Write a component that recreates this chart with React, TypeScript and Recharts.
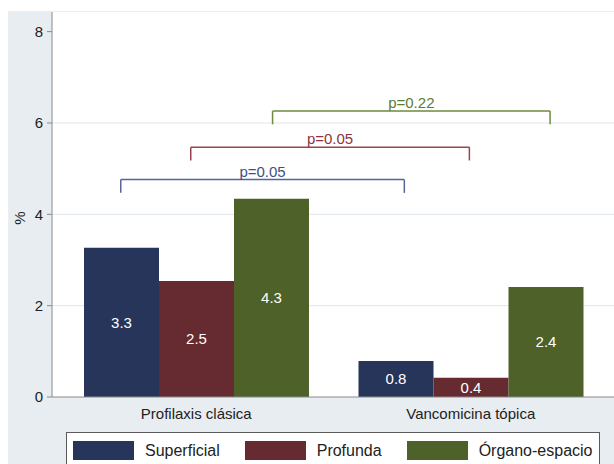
import { Bar, CartesianGrid, ComposedChart, LabelList, ReferenceLine, XAxis, YAxis } from "recharts";

const GROUPS = ["Profilaxis clásica", "Vancomicina tópica"];
const SUPERFICIAL = [3.27, 0.79];
const PROFUNDA = [2.54, 0.42];
const ORGANO = [4.34, 2.41];

const Y_TICKS = [0, 2, 4, 6, 8];
const GRID_VALUES = [2, 4, 6];

// comparison brackets, x as a fraction (0..1) of the category axis
const BRACKET_LABELS = ["p=0.05", "p=0.05", "p=0.22"];
const BRACKET_X1 = [0.1125, 0.24, 0.389];
const BRACKET_X2 = [0.629, 0.7475, 0.8945];
const BRACKET_Y = [4.76, 5.47, 6.26];
const BRACKET_DROP = 0.29;

const SERIES = [
  { key: "superficial", name: "Superficial", color: "#263559" },
  { key: "profunda", name: "Profunda", color: "#662a31" },
  { key: "organo", name: "Órgano-espacio", color: "#4d6128" },
];
const BRACKET_LINE = ["#56659b", "#9b4150", "#6d8b3d"];
const BRACKET_TEXT = ["#3f4f86", "#8c3342", "#5d7a30"];

const FONT = "'Liberation Sans', Arial, Helvetica, sans-serif";

const data = GROUPS.map((g, i) => ({
  group: g,
  superficial: SUPERFICIAL[i],
  profunda: PROFUNDA[i],
  organo: ORGANO[i],
}));

export default function App() {
  return (
    <div style={{ position: "absolute", left: 0, top: 0, width: 614, height: 464, background: "#fff", overflow: "hidden", fontFamily: FONT }}>
      <div style={{ position: "absolute", left: 8, top: 11, right: 0, bottom: 0, background: "#e7edf1" }} />
      <div style={{ position: "absolute", left: 0, top: 0 }}>
        <ComposedChart width={614} height={464} data={data} margin={{ top: 12, right: 0, left: 0, bottom: 33 }} barGap={0}>
          <CartesianGrid fill="#fff" vertical={false} stroke="#dde7ee" horizontalValues={GRID_VALUES} />
          <XAxis
            dataKey="group"
            height={34}
            padding={{ left: 7, right: 6 }}
            tickLine={false}
            tickSize={0}
            tickMargin={11}
            axisLine={{ stroke: "#8a8a8a" }}
            tick={{ fontSize: 15, fill: "#222", fontFamily: FONT }}
          />
          <XAxis xAxisId="n" type="number" domain={[0, 1]} allowDataOverflow hide padding={{ left: 7, right: 6 }} />
          <YAxis
            width={52}
            domain={[0, 8.43]}
            ticks={Y_TICKS}
            allowDataOverflow
            tickSize={5}
            tickMargin={4}
            axisLine={{ stroke: "#8a8a8a" }}
            tickLine={{ stroke: "#8a8a8a" }}
            tick={{ fontSize: 15, fill: "#222", fontFamily: FONT }}
            label={{
              content: () => (
                <text x={21} y={218} transform="rotate(-90 21 218)" textAnchor="middle" dominantBaseline="middle" fontSize={15} fill="#222" fontFamily={FONT}>
                  %
                </text>
              ),
            }}
          />
          {SERIES.map((s) => (
            <Bar key={s.key} dataKey={s.key} name={s.name} fill={s.color} barSize={75} isAnimationActive={false}>
              <LabelList dataKey={s.key} position="center" fill="#fff" fontSize={15} fontFamily={FONT} formatter={(v: any) => Number(v).toFixed(1)} />
            </Bar>
          ))}
          {BRACKET_LABELS.map((lbl, i) => (
            <ReferenceLine
              key={`h${i}`}
              xAxisId="n"
              ifOverflow="visible"
              segment={[
                { x: BRACKET_X1[i], y: BRACKET_Y[i] },
                { x: BRACKET_X2[i], y: BRACKET_Y[i] },
              ]}
              stroke={BRACKET_LINE[i]}
              strokeWidth={1.5}
              label={{ value: lbl, position: "top", offset: 3, fill: BRACKET_TEXT[i], fontSize: 15, fontFamily: FONT }}
            />
          ))}
          {BRACKET_LABELS.map((_, i) => (
            <ReferenceLine
              key={`l${i}`}
              xAxisId="n"
              ifOverflow="visible"
              segment={[
                { x: BRACKET_X1[i], y: BRACKET_Y[i] },
                { x: BRACKET_X1[i], y: BRACKET_Y[i] - BRACKET_DROP },
              ]}
              stroke={BRACKET_LINE[i]}
              strokeWidth={1.5}
            />
          ))}
          {BRACKET_LABELS.map((_, i) => (
            <ReferenceLine
              key={`r${i}`}
              xAxisId="n"
              ifOverflow="visible"
              segment={[
                { x: BRACKET_X2[i], y: BRACKET_Y[i] },
                { x: BRACKET_X2[i], y: BRACKET_Y[i] - BRACKET_DROP },
              ]}
              stroke={BRACKET_LINE[i]}
              strokeWidth={1.5}
            />
          ))}
        </ComposedChart>
      </div>
      <div
        style={{
          position: "absolute",
          left: 66,
          top: 432,
          width: 534,
          height: 40,
          boxSizing: "border-box",
          border: "1px solid #5a5a5a",
          background: "#fff",
          display: "flex",
          alignItems: "flex-start",
          paddingLeft: 6,
          paddingTop: 8,
          whiteSpace: "nowrap",
        }}
      >
        {SERIES.map((s, i) => (
          <div key={s.key} style={{ display: "flex", alignItems: "center", flexShrink: 0, marginRight: i < SERIES.length - 1 ? 25 : 0 }}>
            <div style={{ width: 61, height: 19, background: s.color, flexShrink: 0 }} />
            <span style={{ marginLeft: 11, fontSize: 16, color: "#222", lineHeight: "19px" }}>{s.name}</span>
          </div>
        ))}
      </div>
    </div>
  );
}
